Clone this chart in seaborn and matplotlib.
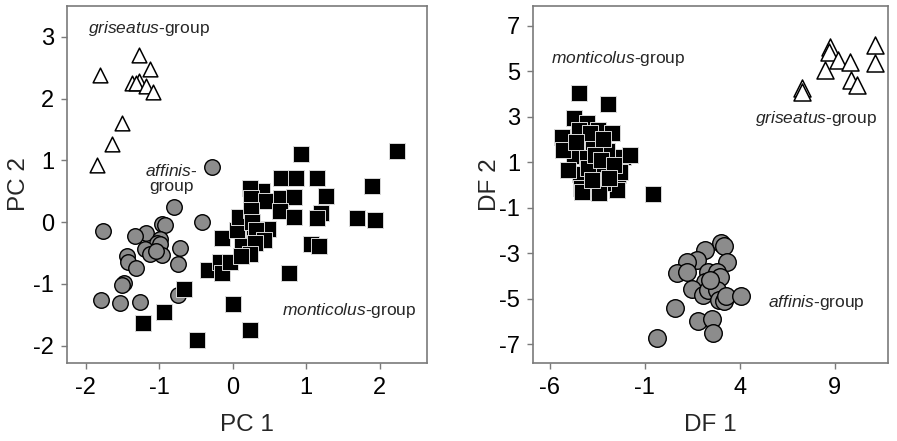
import numpy as np
import pandas as pd
import matplotlib
matplotlib.use("Agg")
import matplotlib.pyplot as plt
import seaborn as sns

# ---------------- data: left panel (PCA) ----------------
gris_pc1 = [-1.28, -1.81, -1.13, -1.37, -1.27, -1.32, -1.18, -1.08, -1.51, -1.65, -1.85]
gris_pc2 = [2.71, 2.39, 2.48, 2.26, 2.28, 2.25, 2.21, 2.10, 1.61, 1.26, 0.92]

aff_pc1 = [-0.28, -0.80, -1.77, -0.42, -0.96, -0.92, -1.18, -1.33, -0.99, -1.03, -0.99,
           -1.19, -1.12, -0.97, -0.72, -1.44, -1.42, -0.74, -1.32, -1.48, -1.51, -1.80,
           -1.54, -1.26, -0.74, -1.05]
aff_pc2 = [0.90, 0.24, -0.15, 0.00, -0.03, -0.04, -0.17, -0.23, -0.28, -0.34, -0.36,
           -0.43, -0.51, -0.53, -0.42, -0.55, -0.64, -0.67, -0.74, -0.98, -1.01, -1.26,
           -1.31, -1.30, -1.18, -0.47]

mon_pc1 = [-1.22, -0.94, -0.48, -0.66, 0.00, 0.24, -0.34, -0.17, -0.14, -0.04, -0.14,
           0.12, 0.06, 0.08, 0.29, 0.93, 2.24, 0.66, 0.86, 1.15, 1.89, 0.40, 0.24, 0.25,
           0.45, 0.65, 0.84, 1.27, 0.25, 0.64, 0.83, 1.20, 1.15, 1.69, 1.93, 0.26, 0.48,
           0.31, 0.43, 0.30, 0.23, 0.11, 1.06, 1.17, 0.76]
mon_pc2 = [-1.64, -1.45, -1.90, -1.09, -1.32, -1.75, -0.77, -0.64, -0.82, -0.65, -0.26,
           -0.36, -0.12, 0.09, -0.12, 1.11, 1.15, 0.72, 0.72, 0.72, 0.58, 0.50, 0.55, 0.39,
           0.34, 0.39, 0.41, 0.43, 0.20, 0.18, 0.08, 0.15, 0.07, 0.07, 0.04, 0.01, -0.11,
           -0.13, -0.29, -0.34, -0.51, -0.55, -0.36, -0.39, -0.83]

# ---------------- data: right panel (DFA) ----------------
gris_df1 = [8.75, 8.72, 9.16, 9.81, 8.49, 11.12, 11.12, 9.89, 10.16, 7.26, 7.26]
gris_df2 = [6.07, 5.85, 5.49, 5.41, 5.05, 6.14, 5.34, 4.61, 4.39, 4.25, 4.10]

aff_df1 = [3.00, 3.17, 2.17, 1.74, 1.21, 3.32, 0.72, 1.24, 2.35, 2.82, 2.96, 2.17, 1.47,
           2.08, 2.35, 2.79, 2.93, 3.17, 3.28, 4.07, 0.59, 1.82, 2.56, 2.61, -0.37, 2.44]
aff_df2 = [-2.53, -2.67, -2.85, -3.29, -3.36, -3.36, -3.87, -3.80, -3.80, -3.84, -4.02,
           -4.24, -4.57, -4.82, -4.60, -4.63, -5.04, -5.11, -4.86, -4.89, -5.40, -5.95,
           -5.89, -6.50, -6.72, -4.16]

mon_df1 = [-4.44, -2.95, -4.72, -4.05, -4.44, -3.44, -2.71, -5.37, -3.74, -2.97, -4.70,
           -2.13, -4.05, -2.92, -4.41, -2.39, -4.35, -3.53, -2.44, -0.55, -3.35, -5.28,
           -5.02, -3.18, -1.77, -4.30, -3.40, -2.29, -3.97, -3.90, -3.20, -4.60, -3.60,
           -3.30, -2.60, -3.80, -2.90]
mon_df2 = [4.03, 3.54, 2.93, 2.71, 2.42, 2.42, 2.30, 2.10, 1.76, 1.51, 1.28,
           1.25, 1.18, 0.88, 0.49, 0.44, -0.14, -0.18, -0.21, -0.40, 0.81, 1.54,
           0.66, 0.08, 1.32, -0.30, -0.35, 0.59, 0.74, 2.30, 2.00, 1.90, 1.30,
           1.10, 0.90, 0.20, 0.30]

left_xticks = [-2, -1, 0, 1, 2]
left_yticks = [-2, -1, 0, 1, 2, 3]
right_xticks = [-6, -1, 4, 9]
right_yticks = [-7, -5, -3, -1, 1, 3, 5, 7]

# ---------------- style ----------------
sns.set_style("ticks")
plt.rcParams["font.family"] = ["Liberation Sans", "DejaVu Sans"]
plt.rcParams["mathtext.fontset"] = "custom"
plt.rcParams["mathtext.rm"] = "Liberation Sans"
plt.rcParams["mathtext.it"] = "Liberation Sans:italic"
plt.rcParams["axes.unicode_minus"] = False

SPINE = "#7a7a7a"
GRAY = "#8c8c8c"

fig = plt.figure(figsize=(8.97, 4.41), dpi=100)
axL = fig.add_axes([0.0744, 0.1776, 0.4013, 0.8088])
axR = fig.add_axes([0.5939, 0.1776, 0.3964, 0.8088])


def draw(ax, gx, gy, ax_, ay_, mx, my, s_tri, s_circ, s_sq):
    sns.scatterplot(x=gx, y=gy, ax=ax, marker="^", s=s_tri, color="white",
                    edgecolor="black", linewidth=1.1, zorder=3)
    sns.scatterplot(x=ax_, y=ay_, ax=ax, marker="o", s=s_circ, color=GRAY,
                    edgecolor="black", linewidth=1.0, zorder=3)
    sns.scatterplot(x=mx, y=my, ax=ax, marker="s", s=s_sq, color="black",
                    edgecolor="#d8d8d8", linewidth=0.7, zorder=4)


draw(axL, gris_pc1, gris_pc2, aff_pc1, aff_pc2, mon_pc1, mon_pc2, 112, 125, 118)
draw(axR, gris_df1, gris_df2, aff_df1, aff_df2, mon_df1, mon_df2, 150, 160, 118)

axL.set_xlim(-2.26, 2.64)
axL.set_ylim(-2.275, 3.50)
axR.set_xlim(-6.9, 11.83)
axR.set_ylim(-7.80, 7.86)

axL.set_xticks(left_xticks)
axL.set_yticks(left_yticks)
axR.set_xticks(right_xticks)
axR.set_yticks(right_yticks)

for ax, xl, yl, ylx in [(axL, "PC 1", "PC 2", -0.102), (axR, "DF 1", "DF 2", -0.089)]:
    for sp in ax.spines.values():
        sp.set_visible(True)
        sp.set_color(SPINE)
        sp.set_linewidth(1.2)
    ax.tick_params(axis="both", direction="out", length=4, width=1, color=SPINE,
                   labelsize=17, labelcolor="black")
    ax.tick_params(axis="x", pad=6)
    ax.tick_params(axis="y", pad=5)
    ax.set_xlabel(xl, fontsize=17.5)
    ax.set_ylabel(yl, fontsize=17.5)
    ax.xaxis.set_label_coords(0.5, -0.145)
    ax.yaxis.set_label_coords(ylx, 0.5)

fs = 12.5
axL.text(-1.966, 3.055, r"$\mathit{griseatus}$-group", fontsize=fs, va="baseline", ha="left")
axL.text(-0.835, 0.75, r"$\mathit{affinis}$-", fontsize=fs, va="baseline", ha="center")
axL.text(-0.835, 0.51, "group", fontsize=fs, va="baseline", ha="center")
axL.text(0.669, -1.503, r"$\mathit{monticolus}$-group", fontsize=fs, va="baseline", ha="left")

axR.text(-5.95, 5.37, r"$\mathit{monticolus}$-group", fontsize=fs, va="baseline", ha="left")
axR.text(4.81, 2.71, r"$\mathit{griseatus}$-group", fontsize=fs, va="baseline", ha="left")
axR.text(5.50, -5.35, r"$\mathit{affinis}$-group", fontsize=fs, va="baseline", ha="left")

fig.savefig("out.png", dpi=100)
